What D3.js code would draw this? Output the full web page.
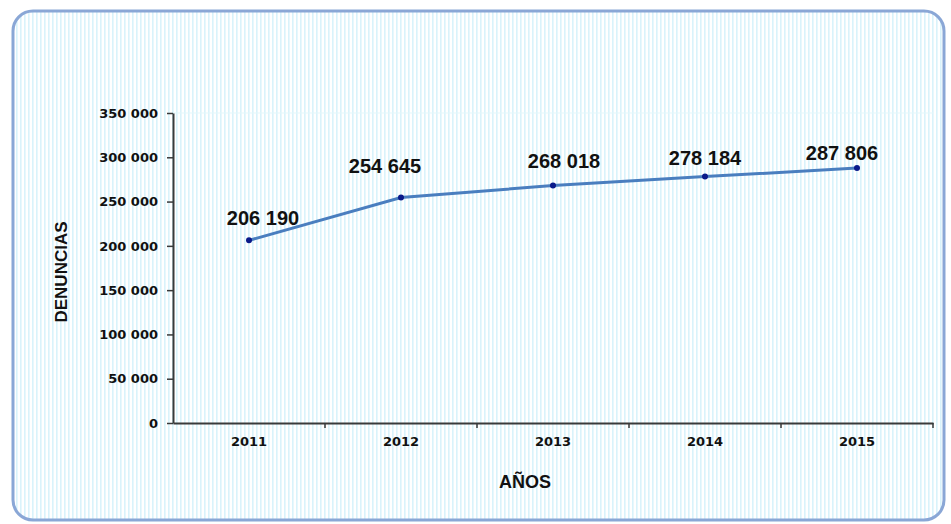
<!DOCTYPE html>
<html><head><meta charset="utf-8">
<script src="https://cdn.jsdelivr.net/npm/d3@7"></script>
<style>html,body{margin:0;padding:0;background:#fff;}svg{display:block;font-family:Arial,"Liberation Sans",sans-serif;}</style>
</head><body>
<svg id="c" width="951" height="524"></svg>
<script>
const years = ["2011","2012","2013","2014","2015"];
const denuncias = [206190, 254645, 268018, 278184, 287806];
const yTicks = [0,50000,100000,150000,200000,250000,300000,350000];
const labelDx = [14,-16,11,0,-15];
const labelDy = [-15,-24,-18,-12,-8];

const svg = d3.select("#c");
const defs = svg.append("defs");
const pat = defs.append("pattern").attr("id","stripes").attr("patternUnits","userSpaceOnUse")
  .attr("width",4).attr("height",10);
pat.append("rect").attr("width",4).attr("height",10).attr("fill","#ffffff");
pat.append("rect").attr("x",0).attr("width",1.6).attr("height",10).attr("fill","#d9f3fb");

svg.append("rect").attr("x",13).attr("y",11).attr("width",931).attr("height",509)
  .attr("rx",20).attr("fill","url(#stripes)").attr("stroke","#8aa7d6").attr("stroke-width",3);

const m = {left:173, right:933, top:113, bottom:423};
const x = d3.scaleBand().domain(years).range([m.left,m.right]);
const y = d3.scaleLinear().domain([0,350000]).range([m.bottom,m.top]);
const fmt = v => d3.format(",")(v).replace(/,/g," ");
const tickFont = "'DejaVu Sans',sans-serif";

svg.append("line").attr("x1",m.left).attr("x2",m.right).attr("y1",m.top).attr("y2",m.top)
  .attr("stroke","#e3f7fb").attr("stroke-width",1);

const yAxis = svg.append("g").attr("transform",`translate(${m.left},0)`)
  .call(d3.axisLeft(y).tickValues(yTicks).tickFormat(fmt).tickSize(6).tickSizeOuter(0));
yAxis.select(".domain").attr("stroke","#3a3a3a").attr("stroke-width",2);
yAxis.selectAll(".tick line").attr("stroke","#3a3a3a").attr("stroke-width",1.5);
yAxis.selectAll(".tick text").attr("font-family",tickFont).attr("font-size",13).attr("font-weight","bold")
  .attr("fill","#111").attr("x",-15);

const xAxis = svg.append("g").attr("transform",`translate(0,${m.bottom})`)
  .call(d3.axisBottom(x).tickSize(0).tickSizeOuter(0));
xAxis.select(".domain").attr("stroke","#3a3a3a").attr("stroke-width",2);
xAxis.selectAll(".tick text").attr("font-family",tickFont).attr("font-size",13).attr("font-weight","bold")
  .attr("fill","#111").attr("y",23).attr("dy",0);
const bounds = years.map(d=>x(d)).concat([m.right]);
svg.append("g").selectAll("line").data(bounds.slice(1)).join("line")
  .attr("x1",d=>d).attr("x2",d=>d).attr("y1",m.bottom).attr("y2",m.bottom+5)
  .attr("stroke","#3a3a3a").attr("stroke-width",1.5);

const cx = d => x(d)+x.bandwidth()/2;
const line = d3.line().x((d,i)=>cx(years[i])).y(d=>y(d));
svg.append("path").datum(denuncias).attr("d",line).attr("fill","none")
  .attr("stroke","#4a7ebf").attr("stroke-width",3);
svg.append("g").selectAll("circle").data(denuncias).join("circle")
  .attr("cx",(d,i)=>cx(years[i])).attr("cy",d=>y(d)).attr("r",3).attr("fill","#0a1a8a");

svg.append("g").selectAll("text").data(denuncias).join("text")
  .attr("x",(d,i)=>cx(years[i])+labelDx[i]).attr("y",(d,i)=>y(d)+labelDy[i])
  .attr("text-anchor","middle").attr("font-size",20).attr("font-weight","bold").attr("fill","#111")
  .text(fmt);

svg.append("text").attr("transform","translate(67,272) rotate(-90)").attr("text-anchor","middle")
  .attr("font-size",17).attr("font-weight","bold").attr("fill","#111").text("DENUNCIAS");
svg.append("text").attr("x",525).attr("y",488).attr("text-anchor","middle")
  .attr("font-size",18).attr("font-weight","bold").attr("fill","#111").text("AÑOS");
</script>
</body></html>
